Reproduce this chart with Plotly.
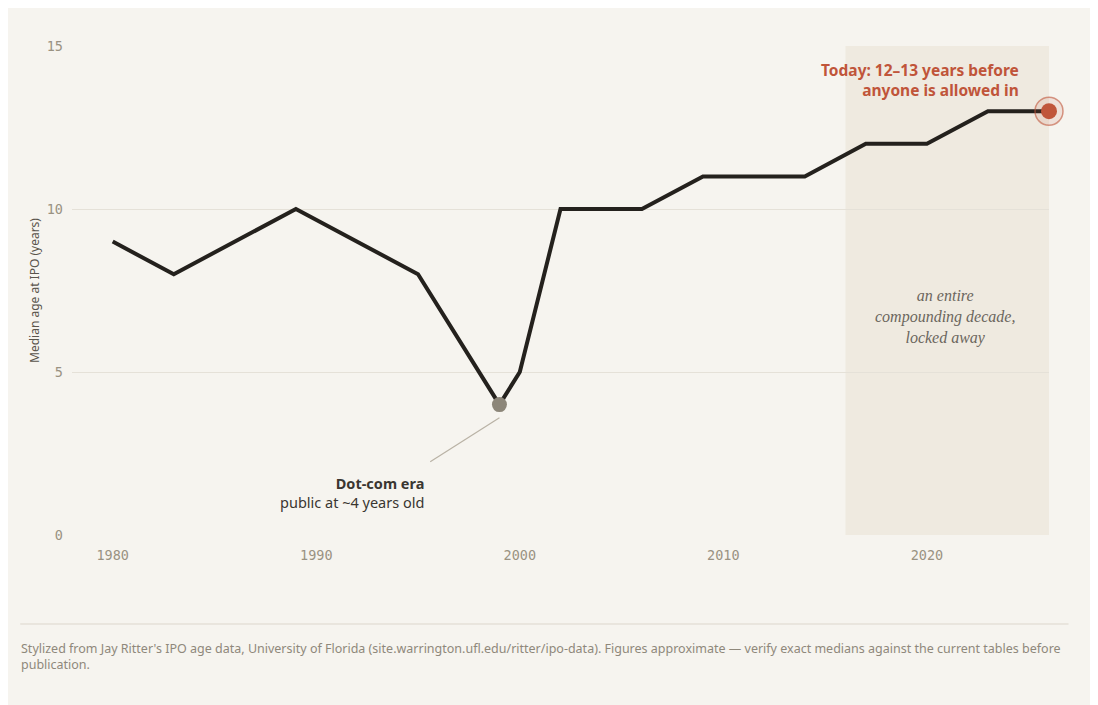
import plotly.graph_objects as go

years = [1980, 1983, 1989, 1995, 1999, 2000, 2002, 2006, 2009, 2014, 2017, 2020, 2023, 2026]
median_age = [9, 8, 10, 8, 4, 5, 10, 10, 11, 11, 12, 12, 13, 13]
x_ticks = [1980, 1990, 2000, 2010, 2020]
y_ticks = [0, 5, 10, 15]

BG = "#f6f4ef"
INK = "#24211d"
RUST = "#c0553a"
MUTED = "#9a9282"

fig = go.Figure()

# shaded "today" decade
fig.add_shape(type="rect", x0=2016, x1=2026, y0=0, y1=15, xref="x", yref="y",
              fillcolor="#efeae0", line_width=0, layer="below")

fig.add_trace(go.Scatter(x=years, y=median_age, mode="lines", cliponaxis=False,
                         line=dict(color=INK, width=4), hoverinfo="skip"))
fig.add_trace(go.Scatter(x=[years[4]], y=[median_age[4]], mode="markers", cliponaxis=False,
                         marker=dict(color="#8c8679", size=15)))
fig.add_trace(go.Scatter(x=[years[-1]], y=[median_age[-1]], mode="markers", cliponaxis=False,
                         marker=dict(color="rgba(192,85,58,0.12)", size=28,
                                     line=dict(color="rgba(192,85,58,0.6)", width=1.5))))
fig.add_trace(go.Scatter(x=[years[-1]], y=[median_age[-1]], mode="markers", cliponaxis=False,
                         marker=dict(color=RUST, size=16)))

# leader line for dot-com
fig.add_shape(type="line", x0=1999, y0=3.6, x1=1995.6, y1=2.25,
              line=dict(color="#b9b2a5", width=1.2))

fig.add_annotation(x=1995.4, y=1.95, xanchor="right", yanchor="top", showarrow=False,
                   align="right",
                   text="<b>Dot-com era</b><br>public at ~4 years old",
                   font=dict(family="Noto Sans", size=14.5, color="#3a3631"))
fig.add_annotation(x=2024.6, y=13.25, xanchor="right", yanchor="bottom", showarrow=False,
                   align="right",
                   text="<b>Today: 12–13 years before<br>anyone is allowed in</b>",
                   font=dict(family="Noto Sans", size=15.5, color=RUST))
fig.add_annotation(x=2020.9, y=6.7, showarrow=False, align="center",
                   text="<i>an entire<br>compounding decade,<br>locked away</i>",
                   font=dict(family="Liberation Serif", size=16, color="#6b665d"))

# footer
fig.add_shape(type="line", xref="paper", yref="paper", x0=-0.053, x1=1.02,
              y0=-0.182, y1=-0.182, line=dict(color="#dcd7cc", width=1))
fig.add_annotation(xref="paper", yref="paper", x=-0.054, y=-0.21, xanchor="left",
                   yanchor="top", showarrow=False, align="left",
                   text="Stylized from Jay Ritter's IPO age data, University of Florida "
                        "(site.warrington.ufl.edu/ritter/ipo-data). Figures approximate — "
                        "verify exact medians against the current tables before<br>publication.",
                   font=dict(family="Noto Sans", size=12.5, color="#8f887b"))

fig.update_layout(
    width=1090, height=697,
    paper_bgcolor=BG, plot_bgcolor=BG,
    margin=dict(l=64, r=49, t=38, b=170),
    showlegend=False,
    xaxis=dict(range=[1978, 2026], tickvals=x_ticks, showgrid=False, zeroline=False,
               showline=False, ticks="", ticklabelstandoff=10,
               tickfont=dict(family="DejaVu Sans Mono", size=13.5, color=MUTED)),
    yaxis=dict(range=[0, 15], tickvals=y_ticks, showgrid=True, gridcolor="#e5e1d8",
               zeroline=False, ticks="", ticklabelstandoff=8,
               tickfont=dict(family="DejaVu Sans Mono", size=13.5, color=MUTED),
               title=dict(text="Median age at IPO (years)", standoff=4,
                          font=dict(family="Noto Sans", size=12, color="#5a554c"))),
)
fig.update_xaxes(automargin=False)
fig.update_yaxes(automargin=False)

fig.write_html("out.html")
